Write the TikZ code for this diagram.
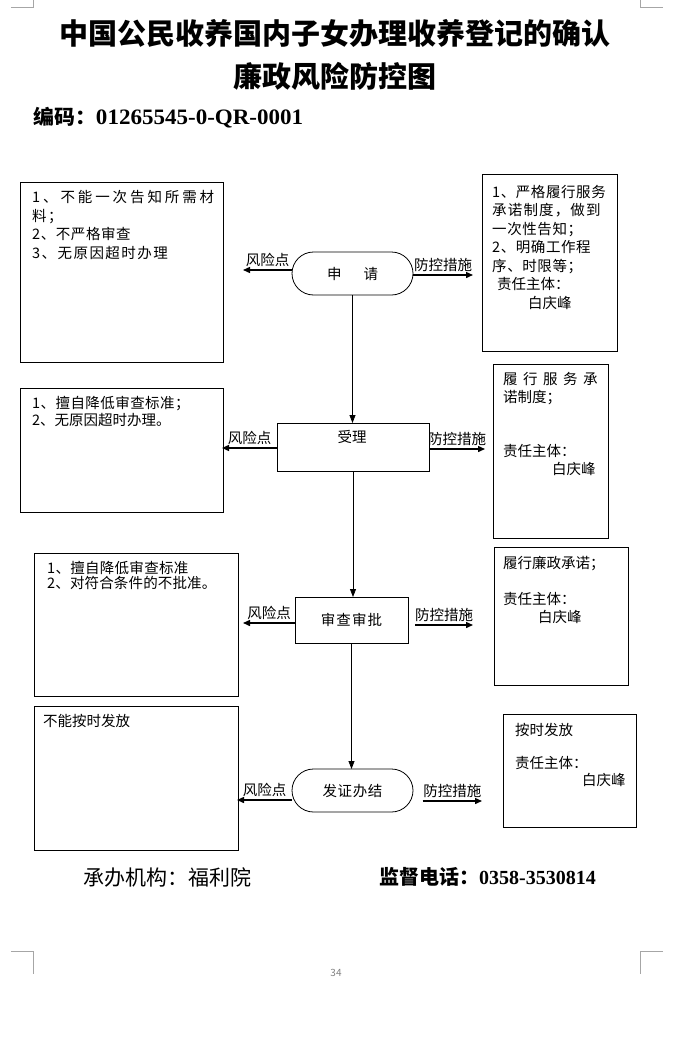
\documentclass[tikz,border=0pt]{standalone}
\usepackage{fontspec}
\usepackage{graphicx}
\setmainfont{Noto Sans CJK SC}
\newfontfamily\serifb{Liberation Serif}
\usetikzlibrary{shapes.misc,arrows.meta}
\newcommand{\bt}[2]{\parbox[t]{200pt}{\raggedright\fontsize{14.5}{#1}\selectfont #2}}
\newcommand{\lsp}[2]{{\addfontfeature{LetterSpace=#1}#2}}
\begin{document}
\begin{tikzpicture}[x=1pt,y=-1pt,
  boxn/.style={draw, line width=0.8pt, inner sep=0pt, outer sep=0pt, anchor=north west},
  boxc/.style={draw, line width=0.8pt, inner sep=0pt, outer sep=0pt, font=\fontsize{14.5}{14.5}\selectfont},
  stad/.style={draw, rounded rectangle, line width=0.8pt, minimum width=121pt, minimum height=43pt, inner sep=0pt, outer sep=0pt, font=\fontsize{14.5}{14.5}\selectfont},
  txt/.style={anchor=base west, inner sep=0pt},
  lbl/.style={inner sep=0pt, font=\fontsize{14.5}{14.5}\selectfont},
  arr/.style={line width=1.4pt, -{Triangle[length=7pt,width=6pt]}},
  varr/.style={line width=0.8pt, -{Triangle[length=8pt,width=6pt]}},
  cornermark/.style={draw=gray!70, line width=0.6pt}
]
\useasboundingbox (0,0) rectangle (673,1041);

% corner marks
\draw[cornermark] (10.8,7) -- (33.6,7) -- (33.6,0);
\draw[cornermark] (663,7) -- (640.6,7) -- (640.6,0);
\draw[cornermark] (10.8,951) -- (33.6,951) -- (33.6,974);
\draw[cornermark] (663,951) -- (640.6,951) -- (640.6,974);

% titles
\node[font=\fontsize{29}{29}\selectfont\bfseries] (t1) at (335,33) {中国公民收养国内子女办理收养登记的确认};
\node[font=\fontsize{29}{29}\selectfont\bfseries] (t2) at (335,76) {廉政风险防控图};
\node[anchor=west, inner sep=0pt] (code) at (33,118) {\resizebox{270pt}{\height}{\fontsize{20}{20}\selectfont\bfseries 编码：{\serifb\fontsize{22}{22}\selectfont 01265545-0-QR-0001}}};

% side boxes
\node[boxn, minimum width=202.3pt, minimum height=180pt] (l1) at (20.7,182) {};
\node[txt] (l1t) at (32,202.3) {\bt{18.7}{\lsp{20}{1、不能一次告知所需材}\\\lsp{10}{料；}\\\lsp{4}{2、不严格审查}\\\lsp{10}{3、无原因超时办理}}};

\node[boxn, minimum width=135pt, minimum height=177pt] (r1b) at (482,174) {};
\node[txt] (r1t) at (492,197.3) {\bt{18.5}{\lsp{4}{1、严格履行服务}\\\lsp{8}{承诺制度，做到}\\\lsp{4}{一次性告知；}\\\lsp{4}{2、明确工作程}\\\lsp{4}{序、时限等；}\\\hspace*{5pt}责任主体：\\\hspace*{36pt}白庆峰}};

\node[boxn, minimum width=202.3pt, minimum height=124pt] (l2) at (20.7,388) {};
\node[txt] (l2t) at (32,408.3) {\bt{17}{\lsp{3}{1、擅自降低审查标准；}\\2、无原因超时办理。}};

\node[boxn, minimum width=115pt, minimum height=174pt] (r2b) at (493,364) {};
\node[txt] (r2t) at (503,384.3) {\bt{18}{\lsp{38}{履行服务承}\\诺制度；\\\mbox{}\\\mbox{}\\责任主体：\\\hspace*{49pt}白庆峰}};

\node[boxn, minimum width=204pt, minimum height=143pt] (l3) at (34,553) {};
\node[txt] (l3t) at (47,573.3) {\bt{15.5}{\lsp{2}{1、擅自降低审查标准}\\\lsp{1}{2、对符合条件的不批准。}}};

\node[boxn, minimum width=134pt, minimum height=138pt] (r3b) at (494,547) {};
\node[txt] (r3t) at (503,568.3) {\bt{18}{履行廉政承诺；\\\mbox{}\\责任主体：\\\hspace*{35pt}白庆峰}};

\node[boxn, minimum width=204.5pt, minimum height=144pt] (l4) at (34,706) {};
\node[txt] (l4t) at (43,726.3) {\bt{18}{不能按时发放}};

\node[boxn, minimum width=133pt, minimum height=113pt] (r4b) at (503,714) {};
\node[txt] (r4t) at (515,735.3) {\bt{16.7}{按时发放\\\mbox{}\\责任主体：\\\hspace*{67pt}白庆峰}};

% central flow
\node[stad] (a1) at (352.5,273.5) {申\hspace{22pt}请};
\node[boxc, minimum width=152pt, minimum height=48pt] (a2) at (353,447) {};
\node[inner sep=0pt, font=\fontsize{14.5}{14.5}\selectfont] (a2t) at (352,437) {受理};
\node[boxc, minimum width=113pt, minimum height=46pt] (a3) at (351.5,620) {\lsp{7}{审查审批}};
\node[stad] (a4) at (352.5,790.5) {\lsp{4}{发证办结}};

\draw[varr] (a1.south) -- (a1.south |- a2.north);
\draw[varr] (a2.south) -- (a2.south |- a3.north);
\draw[varr] (a3.south) -- (a3.south |- a4.north);

% risk / control arrows
\coordinate (r1) at (243,270);
\draw[arr] (a1.west |- r1) -- (r1) node[lbl, midway, above=3pt] (r1l) {风险点};
\coordinate (p1) at (473,275);
\draw[arr] (a1.east |- p1) -- (p1) node[lbl, midway, above=3pt] (p1l) {防控措施};

\coordinate (r2) at (222,448);
\draw[arr] (a2.west |- r2) -- (r2) node[lbl, midway, above=3pt] (r2l) {风险点};
\coordinate (p2) at (485,449);
\draw[arr] (a2.east |- p2) -- (p2) node[lbl, midway, above=3pt] (p2l) {防控措施};

\coordinate (r3) at (243,623);
\draw[arr] (a3.west |- r3) -- (r3) node[lbl, midway, above=3pt] (r3l) {风险点};
\coordinate (p3) at (473,625);
\draw[arr] ([xshift=7pt]a3.east |- p3) -- (p3) node[lbl, midway, above=3pt] (p3l) {防控措施};

\coordinate (r4) at (237,800);
\draw[arr] (a4.west |- r4) -- (r4) node[lbl, midway, above=3pt] (r4l) {风险点};
\coordinate (p4) at (482,801);
\draw[arr] ([xshift=9.5pt]a4.east |- p4) -- (p4) node[lbl, midway, above=3pt] (p4l) {防控措施};

% footer
\node[font=\fontsize{21}{21}\selectfont] (f1) at (167,877) {承办机构：福利院};
\node[font=\fontsize{20}{20}\selectfont\bfseries] (f2) at (487.5,877) {监督电话：{\serifb 0358-3530814}};
\node[font=\fontsize{10}{10}\selectfont, text=gray] (pg) at (336,973) {34};
\end{tikzpicture}
\end{document}
